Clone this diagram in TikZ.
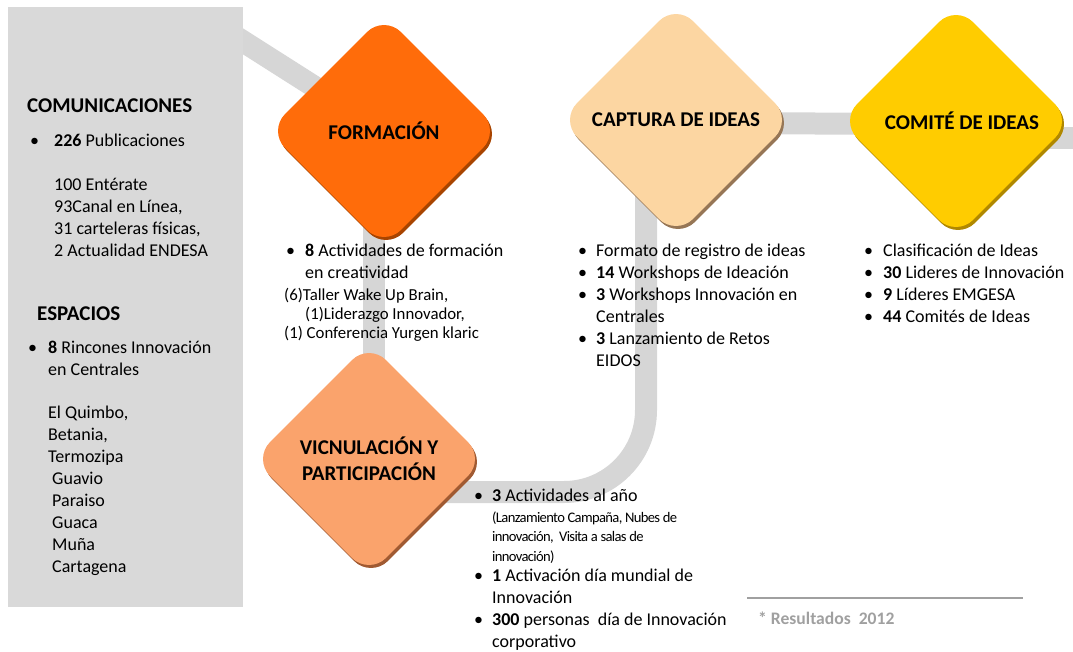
\documentclass[tikz,border=0pt]{standalone}
\usepackage{fontspec}
\setmainfont{Carlito}
\usepackage{tikz}
\usetikzlibrary{shapes.geometric,positioning}
\definecolor{PanelGray}{RGB}{217,217,217}
\definecolor{BandGray}{RGB}{214,214,214}
\definecolor{FormOrange}{RGB}{255,108,10}
\definecolor{FormEdge}{RGB}{168,68,0}
\definecolor{CaptPeach}{RGB}{252,214,162}
\definecolor{CaptEdge}{RGB}{150,118,86}
\definecolor{ComYellow}{RGB}{255,204,0}
\definecolor{ComEdge}{RGB}{176,136,0}
\definecolor{VincSalmon}{RGB}{250,163,108}
\definecolor{VincEdge}{RGB}{160,90,50}
\definecolor{NoteGray}{RGB}{160,160,160}
\newcommand\bodyfs{\fontsize{18}{22}\selectfont}
\newcommand\smallfs{\fontsize{16.8}{19.2}\selectfont}
\newcommand\tinyfs{\fontsize{14.6}{19.5}\selectfont\addfontfeatures{LetterSpace=-4.5}}
\newcommand\titlefs{\fontsize{21}{26}\selectfont\bfseries}
\newcommand\bul[1][9pt]{\llap{\textbullet\hspace{#1}}}
\tikzset{
  band/.style={draw=BandGray, line width=22pt},
  stage/.style 2 args={diamond, rounded corners=24pt, minimum size=232pt,
    inner sep=0pt, align=center, font=\titlefs, fill=#1,
    preaction={fill=#2, transform canvas={shift={(2pt,-3pt)}}}},
  block/.style={align=left, inner sep=0pt, anchor=base west, font=\bodyfs},
}

\begin{document}
\begin{tikzpicture}[x=1pt,y=-1pt]
  \useasboundingbox (0,0) rectangle (1073,651);
  \coordinate (entry) at (222,28);
  \coordinate (exit) at (1090,138);
  \coordinate (form) at (384,131);
  \coordinate (capt) at (676,120);
  \coordinate (com) at (956,121);
  \coordinate (vinc) at (369,459);

  \draw[band] (entry) -- (form);
  \draw[band] ([xshift=-10pt]form) -- ([xshift=5pt]vinc);
  \draw[band, rounded corners=82pt] ([yshift=-33pt]vinc) -| ([xshift=-30pt]capt);
  \draw[band] ([yshift=-3pt]capt) -- ([yshift=-3pt]com);
  \draw[band] ([yshift=-17pt]com) -- (exit);

  \fill[PanelGray] (8,7) rectangle (243,607);

  \node[stage={FormOrange}{FormEdge}] (formbox) at (form) {FORMACIÓN};
  \node[stage={CaptPeach}{CaptEdge}] (captbox) at (capt) {CAPTURA DE IDEAS};
  \node[stage={ComYellow}{ComEdge}] (combox) at (com) {\hspace*{12pt}COMITÉ DE IDEAS};
  \node[stage={VincSalmon}{VincEdge}] (vincbox) at (vinc) {VICNULACIÓN Y\\PARTICIPACIÓN};

  \node[block, font=\titlefs] (comhead) at (27,112) {COMUNICACIONES};
  \node[block] (pubs) at (54,146) {\bul[15pt]\textbf{226} Publicaciones};
  \node[block] (publist) at (54,256) {100 Entérate\\93Canal en Línea,\\31 carteleras físicas,\\2 Actualidad ENDESA};
  \node[block, font=\titlefs] (esphead) at (37,320) {ESPACIOS};
  \node[block] (rinc) at (48,375) {\bul[11pt]\textbf{8} Rincones Innovación\\en Centrales};
  \node[block] (rinclist) at (48,572) {El Quimbo,\\Betania,\\Termozipa\\\hspace*{4pt}Guavio\\\hspace*{4pt}Paraiso\\\hspace*{4pt}Guaca\\\hspace*{4pt}Muña\\\hspace*{4pt}Cartagena};

  \node[block] (formtxt) at (305,278) {\bul[10pt]\textbf{8} Actividades de formación\\en creatividad};
  \node[block, font=\smallfs] (formsub) at (284,338.4) {(6)Taller Wake Up Brain,\\\hspace*{21pt}(1)Liderazgo Innovador,\\(1) Conferencia Yurgen klaric};

  \node[block] (capttxt) at (596,366) {\bul Formato de registro de ideas\\\bul\textbf{14} Workshops de Ideación\\\bul\textbf{3} Workshops Innovación en\\Centrales\\\bul\textbf{3} Lanzamiento de Retos\\EIDOS};

  \node[block] (comtxt) at (883,322) {\bul[10pt]Clasificación de Ideas\\\bul[10pt]\textbf{30} Lideres de Innovación\\\bul[10pt]\textbf{9} Líderes EMGESA\\\bul[10pt]\textbf{44} Comités de Ideas};

  \node[block] (vinctxt) at (492,501) {\bul\textbf{3} Actividades al año};
  \node[block, font=\tinyfs] (vincsub) at (492,561) {(Lanzamiento Campaña, Nubes de\\innovación,\ \ Visita a salas de\\innovación)};
  \node[block] (vincmore) at (492,647.5) {\bul\textbf{1} Activación día mundial de\\Innovación\\\bul\textbf{300} personas\ \ día de Innovación\\corporativo};

  \coordinate (ruleL) at (747,598);
  \coordinate (ruleR) at (1023,598);
  \draw[NoteGray, line width=2pt] (ruleL) -- (ruleR);
  \node[block, font=\fontsize{17.6}{20}\selectfont\bfseries, text=NoteGray] (note) at (758,624) {* Resultados\ \ 2012};
\end{tikzpicture}
\end{document}
